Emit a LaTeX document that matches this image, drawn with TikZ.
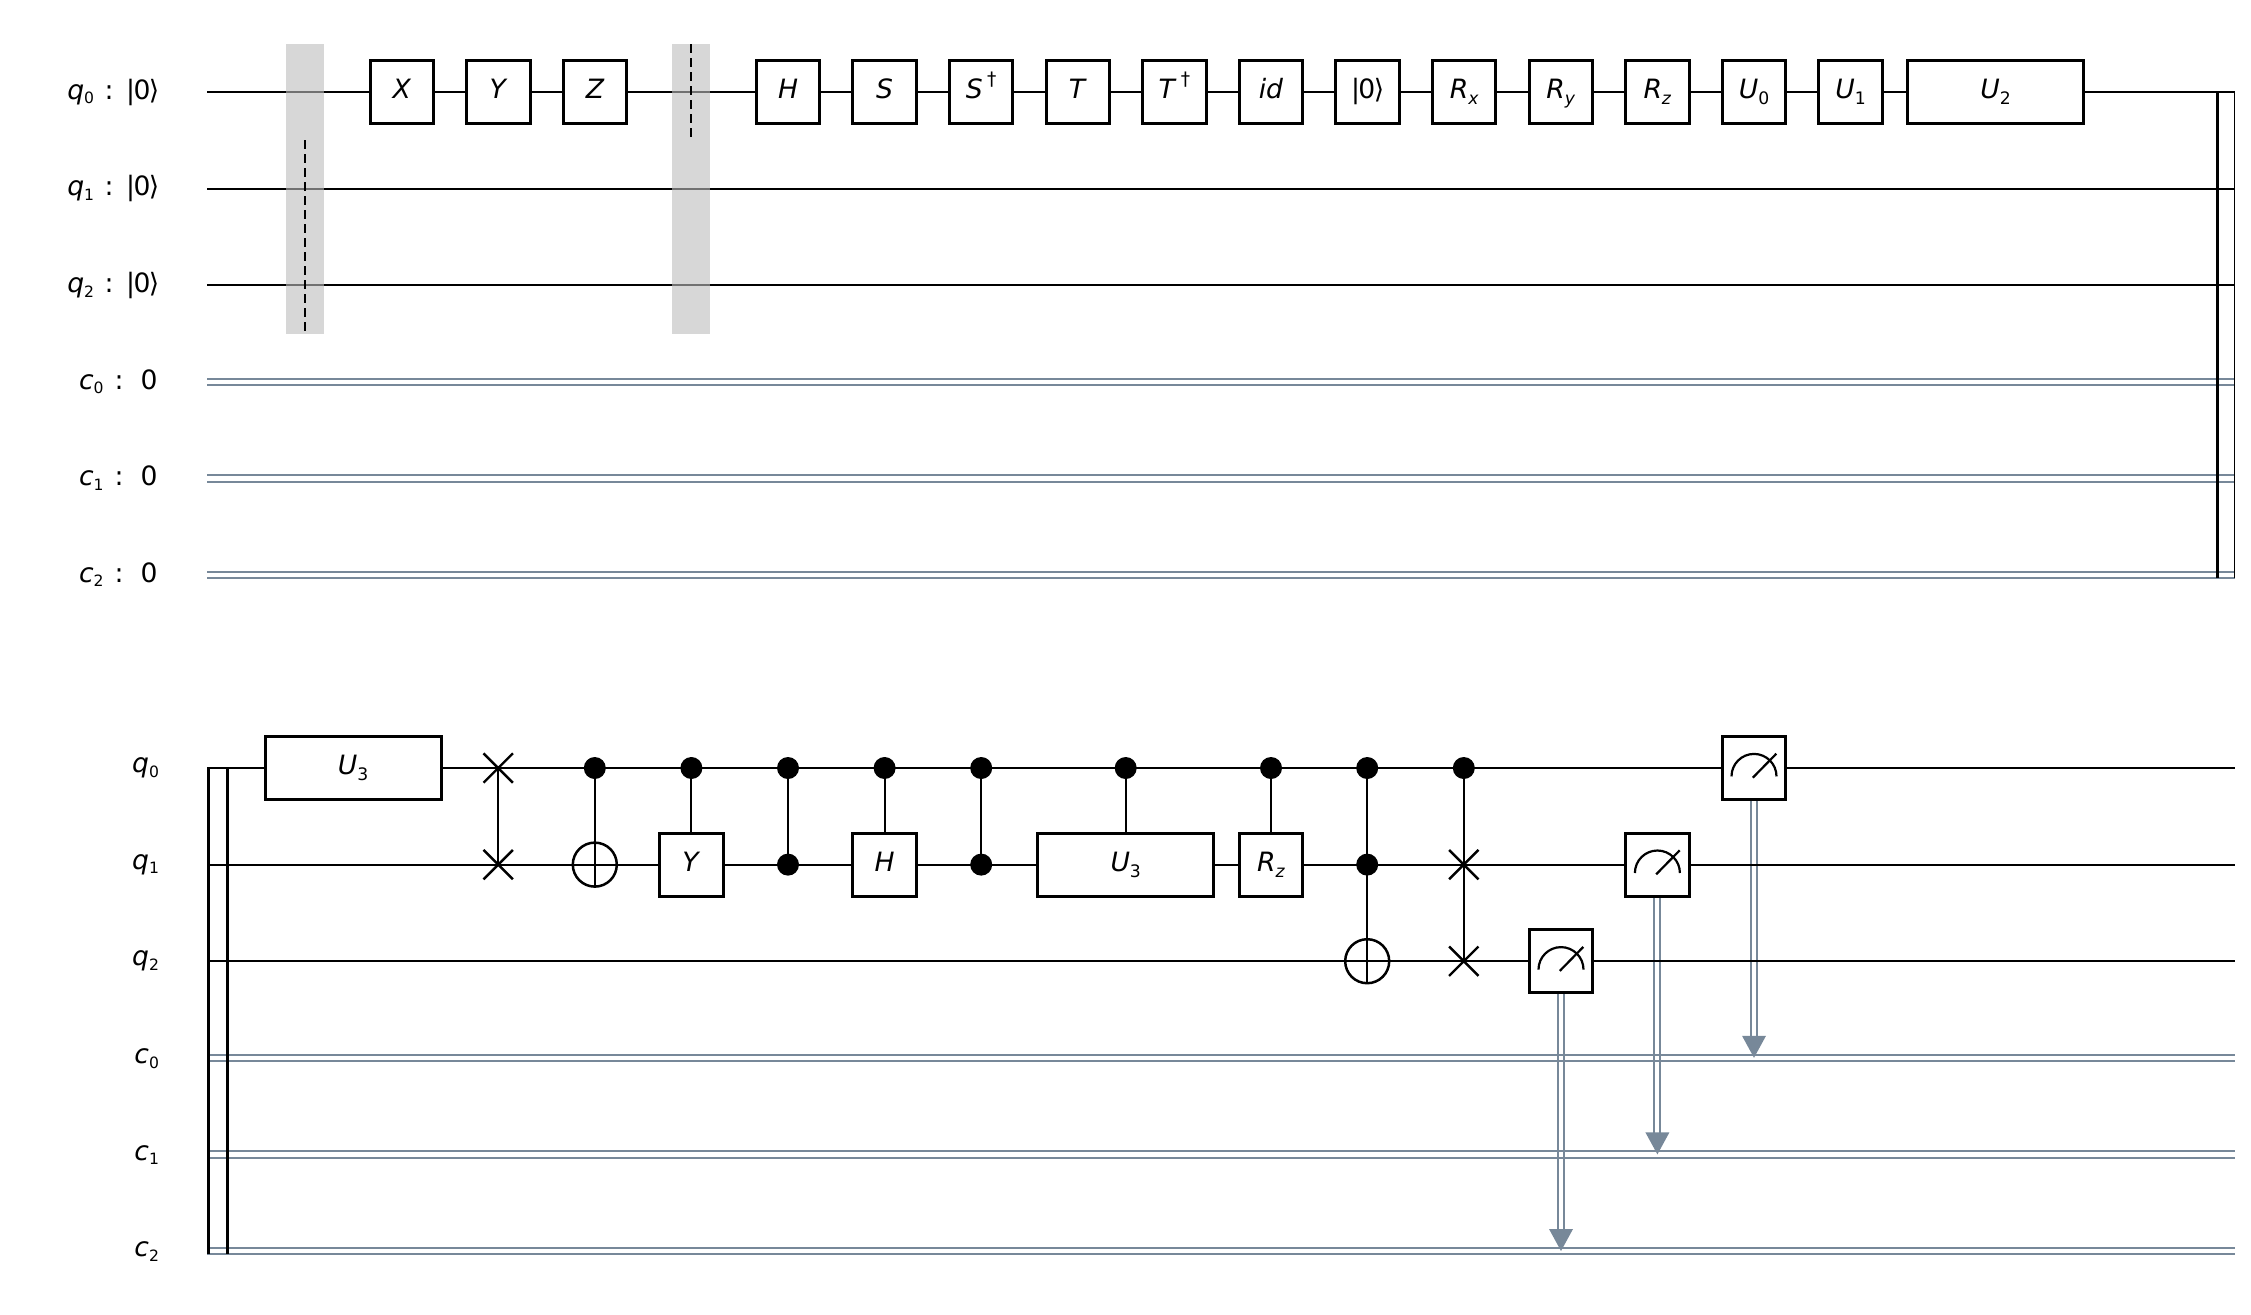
\documentclass[tikz,border=0pt]{standalone}
\usepackage{fontspec}
\setmainfont{DejaVu Sans}
\usetikzlibrary{shapes.misc}
\definecolor{cwire}{HTML}{778899}
\definecolor{barr}{HTML}{BDBDBD}
\pgfdeclarelayer{clayer}
\pgfdeclarelayer{wlayer}
\pgfdeclarelayer{blayer}
\pgfsetlayers{clayer,wlayer,blayer,main}
\newcommand{\sbs}[1]{\raisebox{-0.22em}{\fontsize{8.6}{10}\selectfont #1}}
\newcommand{\sbl}[1]{\raisebox{-0.17em}{\fontsize{7.8}{10}\selectfont #1}}
\newcommand{\sps}[1]{\raisebox{0.48em}{\fontsize{9.3}{10}\selectfont #1}}
\newcommand{\ket}{|\kern-0.8pt 0\kern-0.8pt ⟩}
\tikzset{
  x=0.5pt,y=0.5pt,
  txt/.style={font=\fontsize{13.3}{15}\selectfont,text height=11pt,text depth=4.3pt,inner sep=0pt,outer sep=0pt},
  gate/.style={txt,draw=black,fill=white,line width=1.5pt,minimum width=31.7pt,minimum height=31.5pt},
  wgate/.style={gate,minimum width=88pt},
  lbl/.style={txt,anchor=east},
  wire/.style={black,line width=1pt},
  cl/.style={cwire,line width=1pt},
  bar/.style={black,line width=1.5pt},
  barrierbox/.style={fill=barr,fill opacity=0.6,draw=none},
  bdash/.style={black,line width=1pt,dash pattern=on 4.5pt off 2.5pt},
  ctrl/.style={circle,fill=black,draw=none,minimum size=11pt,inner sep=0pt},
  targ/.style={circle,draw=black,line width=1.25pt,minimum size=22pt,inner sep=0pt},
  swp/.style={cross out,draw=black,line width=1.2pt,minimum size=13.5pt,inner sep=0pt},
  conn/.style={black,line width=1pt},
  needle/.style={black,line width=1.1pt},
  arrowfill/.style={fill=cwire,draw=none},
}
\newcommand{\classic}[2]{%
  \draw[cl] ([yshift=1.6pt]#1) -- ([yshift=1.6pt]#2);
  \draw[cl] ([yshift=-1.6pt]#1) -- ([yshift=-1.6pt]#2);}
\newcommand{\meas}[3]{% name, wire coordinate, classical wire coordinate
  \node[gate] (#1) at (#2) {};
  \draw[needle] ([xshift=-11.25pt,yshift=-4.2pt]#1.center) arc[start angle=180,end angle=0,radius=11.25pt];
  \draw[needle] ([xshift=-0.6pt,yshift=-4.85pt]#1.center) -- ([xshift=11.15pt,yshift=7.15pt]#1.center);
  \coordinate (#1t) at (#1.center |- #3);
  \begin{pgfonlayer}{clayer}
    \draw[cl] ([xshift=-1.5pt]#1.south) -- ([xshift=-1.5pt,yshift=10pt]#1t);
    \draw[cl] ([xshift=1.5pt]#1.south) -- ([xshift=1.5pt,yshift=10pt]#1t);
  \end{pgfonlayer}
  \fill[arrowfill] (#1t) -- ([xshift=-6pt,yshift=11pt]#1t) -- ([xshift=6pt,yshift=11pt]#1t) -- cycle;}
\newcommand{\qlab}[1]{\textit{q}\sbl{#1}\hspace{.39em}:\hspace{.48em}\ket}
\newcommand{\clab}[1]{\textit{c}\sbl{#1}\hspace{.1em} :~~0}
\begin{document}
\begin{tikzpicture}
\useasboundingbox (0,0) rectangle (2251,-1314);

% ---------- top row coordinates
\foreach \n/\y in {q0/92,q1/188.6,q2/285.2,c0/381.8,c1/478.4,c2/575}{
  \coordinate (A\n) at (207,-\y);
  \coordinate (B\n) at (2235,-\y);
}
\begin{pgfonlayer}{wlayer}
  \foreach \n in {q0,q1,q2}{\draw[wire] (A\n) -- (B\n);}
\end{pgfonlayer}
\begin{pgfonlayer}{clayer}
  \foreach \n in {c0,c1,c2}{\classic{A\n}{B\n}}
\end{pgfonlayer}

\node[lbl] (lq0) at (159.3,-92.6) {\qlab{0}};
\node[lbl] (lq1) at (159.3,-189.2) {\qlab{1}};
\node[lbl] (lq2) at (159.3,-285.8) {\qlab{2}};
\node[lbl] (lc0) at (157.5,-382.4) {\clab{0}};
\node[lbl] (lc1) at (157.5,-479) {\clab{1}};
\node[lbl] (lc2) at (157.5,-575.6) {\clab{2}};

% barriers
\begin{pgfonlayer}{blayer}
  \fill[barrierbox] (286,-44) rectangle (324,-333.5);
  \fill[barrierbox] (672,-44) rectangle (710,-333.5);
\end{pgfonlayer}
\coordinate (b1a) at (305,-140.3);
\coordinate (b1b) at (305,-333.5);
\coordinate (b2a) at (691,-44);
\coordinate (b2b) at (691,-140.3);
\draw[bdash] (b1a) -- (b1b);
\draw[bdash] (b2a) -- (b2b);

% top gates
\node[gate] (gX) at (402,-92) {\textit{X}};
\node[gate] (gY) at (498.6,-92) {\textit{Y}};
\node[gate] (gZ) at (595.2,-92) {\textit{Z}};
\node[gate] (gH) at (788,-92) {\textit{H}};
\node[gate] (gS) at (884.6,-92) {\textit{S}};
\node[gate] (gSd) at (981.2,-92) {\textit{S}\,\sps{†}};
\node[gate] (gT) at (1077.8,-92) {\textit{T}};
\node[gate] (gTd) at (1174.4,-92) {\textit{T}\,\sps{†}};
\node[gate] (gid) at (1271,-92) {\textit{id}};
\node[gate] (grs) at (1367.6,-92) {\ket};
\node[gate] (gRx) at (1464.2,-92) {\textit{R}\sbs{\textit{x}}};
\node[gate] (gRy) at (1560.8,-92) {\textit{R}\sbs{\textit{y}}};
\node[gate] (gRz) at (1657.4,-92) {\textit{R}\sbs{\textit{z}}};
\node[gate] (gU0) at (1754,-92) {\textit{U}\sbs{0}};
\node[gate] (gU1) at (1850.6,-92) {\textit{U}\sbs{1}};
\node[wgate] (gU2) at (1995.5,-92) {\textit{U}\sbs{2}};

% top right bars
\coordinate (tbar1a) at (2217.5,-92);
\coordinate (tbar1b) at (2217.5,-578);
\coordinate (tbar2a) at (2234.4,-92);
\coordinate (tbar2b) at (2234.4,-578);
\draw[bar] (tbar1a) -- (tbar1b);
\draw[black,line width=0.8pt] (tbar2a) -- (tbar2b);

% ---------- bottom row coordinates
\foreach \n/\y in {q0/768,q1/864.6,q2/961.2,c0/1057.8,c1/1154.4,c2/1251}{
  \coordinate (C\n) at (207,-\y);
  \coordinate (D\n) at (2235,-\y);
}
\begin{pgfonlayer}{wlayer}
  \foreach \n in {q0,q1,q2}{\draw[wire] (C\n) -- (D\n);}
\end{pgfonlayer}
\begin{pgfonlayer}{clayer}
  \foreach \n in {c0,c1,c2}{\classic{C\n}{D\n}}
\end{pgfonlayer}

\node[lbl] (mq0) at (159,-766) {\textit{q}\sbl{0}};
\node[lbl] (mq1) at (159,-862.6) {\textit{q}\sbl{1}};
\node[lbl] (mq2) at (159,-959.2) {\textit{q}\sbl{2}};
\node[lbl] (mc0) at (159,-1056.8) {\textit{c}\sbl{0}};
\node[lbl] (mc1) at (159,-1153.4) {\textit{c}\sbl{1}};
\node[lbl] (mc2) at (159,-1250) {\textit{c}\sbl{2}};

% left bars
\coordinate (lbar1a) at (208.7,-767.5);
\coordinate (lbar1b) at (208.7,-1253.5);
\coordinate (lbar2a) at (227.3,-767.5);
\coordinate (lbar2b) at (227.3,-1253.5);
\draw[bar] (lbar1a) -- (lbar1b);
\draw[bar] (lbar2a) -- (lbar2b);

\node[wgate] (hU3) at (353,-768) {\textit{U}\sbs{3}};

% swap
\node[swp] (s1a) at (498.2,-768) {};
\node[swp] (s1b) at (498.2,-864.6) {};
\draw[conn] (s1a.center) -- (s1b.center);

% cx
\node[ctrl] (cx1) at (594.8,-768) {};
\node[targ] (cx2) at (594.8,-864.6) {};
\draw[conn] (cx1.center) -- (cx2.south);

% cy
\node[ctrl] (cy1) at (691.4,-768) {};
\node[gate] (cy2) at (691.4,-864.6) {\textit{Y}};
\draw[conn] (cy1.center) -- (cy2.north);

% cz
\node[ctrl] (cz1) at (788,-768) {};
\node[ctrl] (cz2) at (788,-864.6) {};
\draw[conn] (cz1.center) -- (cz2.center);

% ch
\node[ctrl] (ch1) at (884.6,-768) {};
\node[gate] (ch2) at (884.6,-864.6) {\textit{H}};
\draw[conn] (ch1.center) -- (ch2.north);

% cu1
\node[ctrl] (cu1) at (981.2,-768) {};
\node[ctrl] (cu2) at (981.2,-864.6) {};
\draw[conn] (cu1.center) -- (cu2.center);

% cu3
\node[ctrl] (cv1) at (1125.7,-768) {};
\node[wgate] (cv2) at (1125.7,-864.6) {\textit{U}\sbs{3}};
\draw[conn] (cv1.center) -- (cv2.north);

% crz
\node[ctrl] (cr1) at (1271,-768) {};
\node[gate] (cr2) at (1271,-864.6) {\textit{R}\sbs{\textit{z}}};
\draw[conn] (cr1.center) -- (cr2.north);

% ccx
\node[ctrl] (ccx1) at (1367.2,-768) {};
\node[ctrl] (ccx2) at (1367.2,-864.6) {};
\node[targ] (ccx3) at (1367.2,-961.2) {};
\draw[conn] (ccx1.center) -- (ccx3.south);

% cswap
\node[ctrl] (cs1) at (1463.8,-768) {};
\node[swp] (cs2) at (1463.8,-864.6) {};
\node[swp] (cs3) at (1463.8,-961.2) {};
\draw[conn] (cs1.center) -- (cs3.center);

% measures
\coordinate (meas2) at (1561,-961.2);
\coordinate (meas1) at (1657.4,-864.6);
\coordinate (meas0) at (1754,-768);
\meas{m2}{meas2}{Cc2}
\meas{m1}{meas1}{Cc1}
\meas{m0}{meas0}{Cc0}
\end{tikzpicture}
\end{document}
